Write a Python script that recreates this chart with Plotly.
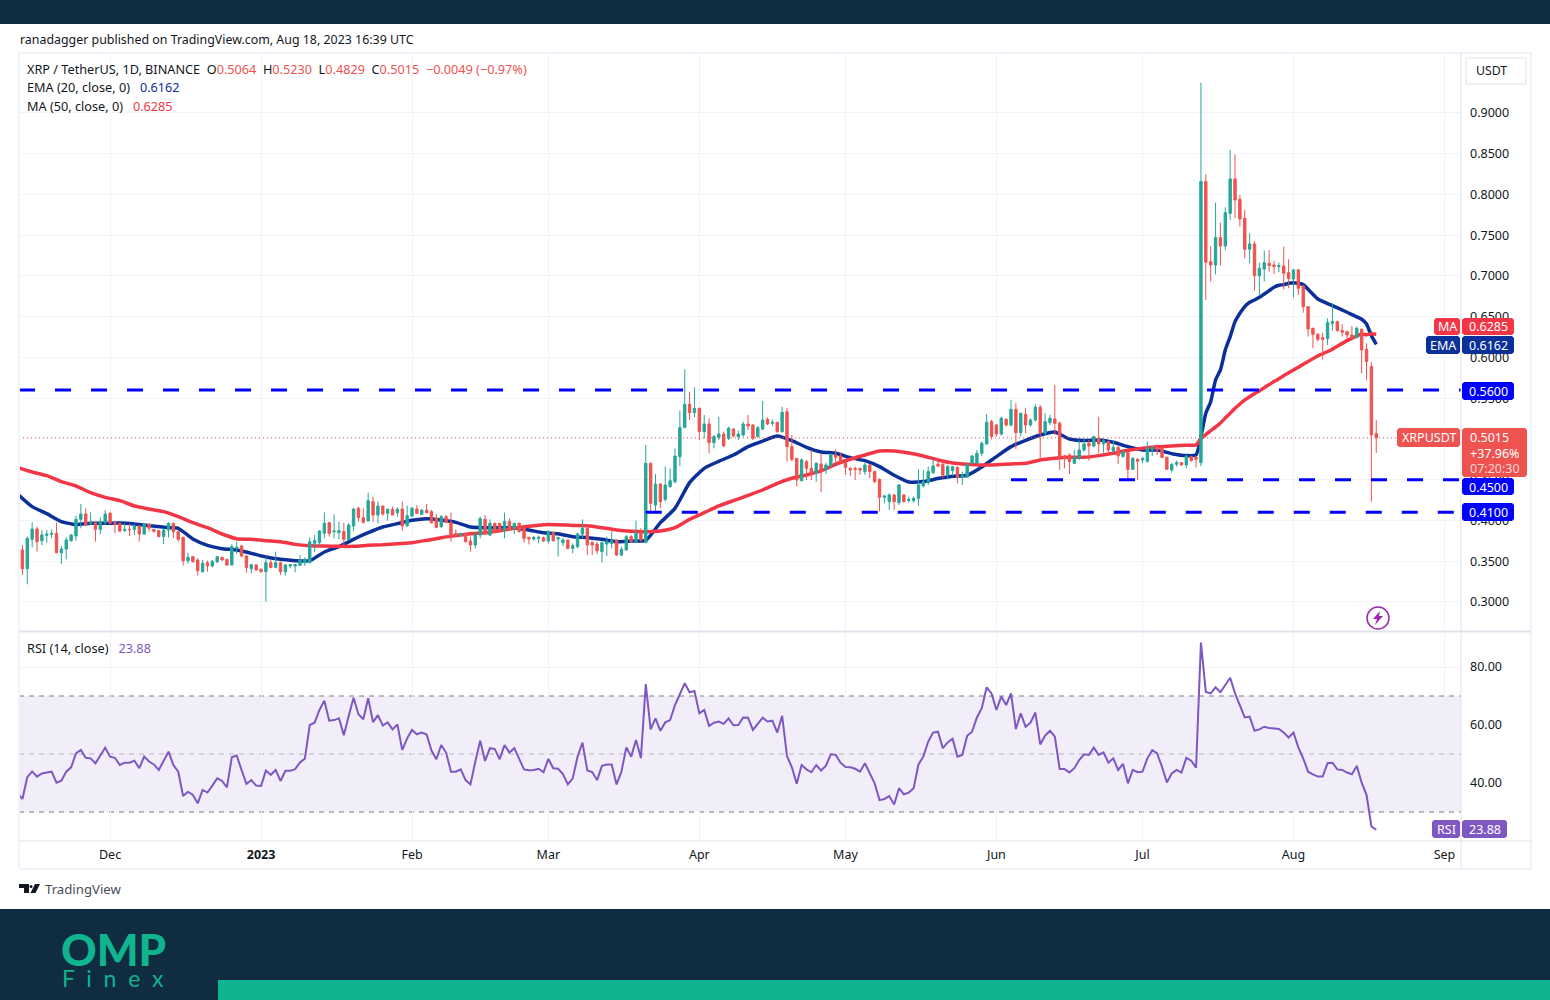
import pandas as pd
import plotly.graph_objects as go

# ---------- data ----------
candle_start = "2022-11-13"
open_vals = [
.3638,.3409,.3769,.3896,.3752,.3818,.3830,.3842,.3605,.3650,
.3752,.3810,.4014,.4080,.3957,.3973,.3891,.3973,.4088,.3973,
.3965,.3875,.3891,.3891,.3932,.3834,.3957,.3891,.3875,.3802,
.3883,.3965,.3863,.3793,.3507,.3556,.3515,.3372,.3482,.3442,
.3495,.3548,.3523,.3454,.3658,.3687,.3564,.3409,.3454,.3401,
.3372,.3482,.3425,.3482,.3372,.3442,.3442,.3450,.3482,.3482,
.3720,.3728,.3842,.3973,.3863,.3851,.3863,.3769,.3932,.4149,
.4035,.3994,.4231,.4067,.4178,.4088,.4137,.4096,
.4141,.3936,.4055,.4141,.4075,.4128,.4108,.4026,.3924,.4047,
.3977,.3842,.3818,.3842,.3748,.3699,.3822,.4014,.3822,.3965,
.3965,.3875,.3989,.3904,.3965,.3904,.3793,.3773,.3781,.3789,
.3748,.3850,.3773,.3728,.3760,.3658,.3679,.3834,.3904,.3728,
.3711,.3617,.3711,.3719,.3760,.3576,.3638,.3801,.3740,.3850,
.3728,.4701,.4190,.4448,.4259,.4415,.4476,.4783,.5143,.5425,
.5323,.5376,.5090,.5184,.4955,.5020,.5061,.5008,.5122,.5028,
.5049,.5184,.5171,.5028,.5122,.5241,.5192,.5204,.5090,.5335,
.4906,.4763,.4489,.4722,.4640,.4579,.4694,.4620,.4669,.4804,
.4792,.4710,.4640,.4640,.4636,.4600,.4681,.4600,.4505,.4285,
.4231,.4313,.4219,.4313,.4244,.4244,.4272,.4424,.4465,.4587,
.4690,.4690,.4559,.4612,.4653,.4538,.4530,.4702,.4702,.4825,
.4939,.5213,.5172,.5062,.5242,.5172,.5364,.5078,.5303,.5172,
.5233,.5389,.5070,.5201,.5246,.5193,.4792,.4804,.4702,.4763,
.4865,.4947,.4914,.5009,.4939,.4968,.4853,.4898,.4784,.4833,
.4628,.4751,.4743,.4726,.4865,.4898,.4886,.4775,.4620,.4690,
.4710,.4681,.4784,.4775,.4710,
.8158,.7176,.7135,.7471,.7368,.7769,.8191,.7941,.7708,.7328,
.7393,.7004,.7086,.7156,.7135,.7115,.7123,.7041,.6964,.7074,
.6878,.6624,.6358,.6285,.6244,.6231,.6420,.6440,.6330,.6317,
.6276,.6244,.6346,.6101,.5888,.5064]
close_vals = [
.3409,.3781,.3896,.3740,.3822,.3834,.3842,.3605,.3650,.3761,
.3822,.4014,.4080,.3945,.3973,.3891,.3986,.4080,.3965,.3957,
.3871,.3891,.3887,.3932,.3834,.3957,.3904,.3867,.3802,.3883,
.3965,.3863,.3769,.3507,.3548,.3495,.3384,.3474,.3442,.3499,
.3556,.3515,.3454,.3679,.3671,.3564,.3421,.3458,.3393,.3372,
.3482,.3425,.3482,.3372,.3454,.3458,.3458,.3515,.3523,.3740,
.3752,.3871,.3965,.3842,.3871,.3875,.3769,.3945,.4141,.4035,
.3977,.4243,.4067,.4178,.4080,.4137,.4067,.4137,
.3932,.4059,.4149,.4088,.4128,.4096,.3973,.3916,.4047,.3977,
.3809,.3822,.3842,.3740,.3699,.3822,.4022,.3834,.3965,.3863,
.3875,.3989,.3883,.3965,.3863,.3781,.3773,.3793,.3793,.3748,
.3863,.3752,.3789,.3760,.3658,.3691,.3834,.3904,.3699,.3699,
.3629,.3728,.3740,.3752,.3576,.3646,.3801,.3740,.3842,.3760,
.4701,.4210,.4448,.4231,.4435,.4488,.4791,.5139,.5425,.5323,
.5376,.5090,.5184,.4955,.5028,.5061,.4914,.5131,.5036,.5061,
.5184,.5159,.5008,.5139,.5233,.5184,.5204,.5090,.5327,.4906,
.4751,.4497,.4743,.4640,.4579,.4702,.4600,.4681,.4804,.4775,
.4722,.4653,.4620,.4628,.4620,.4681,.4600,.4477,.4285,.4301,
.4313,.4231,.4436,.4231,.4260,.4272,.4436,.4477,.4600,.4669,
.4669,.4559,.4661,.4661,.4530,.4559,.4690,.4792,.4825,.4947,
.5205,.5029,.5062,.5254,.5172,.5364,.5078,.5315,.5172,.5233,
.5389,.5070,.5213,.5254,.5193,.4775,.4763,.4722,.4775,.4865,
.4939,.4914,.5029,.4939,.4980,.4865,.4898,.4792,.4845,.4628,
.4763,.4726,.4763,.4886,.4898,.4865,.4775,.4628,.4690,.4710,
.4681,.4792,.4735,.4751,.8158,
.7168,.7135,.7471,.7368,.7777,.8191,.7933,.7700,.7328,.7393,
.7004,.7094,.7164,.7127,.7115,.7127,.7033,.6968,.7074,.6849,
.6624,.6350,.6285,.6223,.6223,.6428,.6440,.6330,.6309,.6276,
.6244,.6358,.6093,.5950,.5050,.5015]
high_vals = [
.3699,.3802,.3977,.3924,.3883,.3883,.3891,.3977,.3687,.3793,
.3834,.4059,.4202,.4149,.4100,.3986,.4039,.4129,.4108,.3986,
.3973,.3965,.3965,.3957,.3945,.3965,.3965,.3891,.3883,.3904,
.3977,.3973,.3883,.3802,.3605,.3564,.3536,.3515,.3507,.3515,
.3564,.3548,.3523,.3712,.3740,.3699,.3577,.3466,.3466,.3413,
.3548,.3515,.3617,.3495,.3466,.3466,.3466,.3577,.3548,.3793,
.3822,.3883,.4100,.3986,.4076,.3986,.3973,.3965,.4149,.4170,
.4149,.4341,.4292,.4231,.4178,.4149,.4170,.4161,
.4231,.4182,.4169,.4190,.4137,.4202,.4128,.4079,.4067,.4067,
.4096,.3891,.3850,.3850,.3801,.3850,.4047,.4067,.4014,.3973,
.3973,.4096,.4026,.3973,.3973,.3916,.3801,.3809,.3814,.3801,
.3883,.3863,.3801,.3781,.3769,.3719,.3850,.4014,.3924,.3752,
.3740,.3740,.3801,.3867,.3769,.3679,.3822,.3822,.3998,.3904,
.4926,.4709,.4570,.4456,.4660,.4640,.4885,.5347,.5854,.5580,
.5634,.5384,.5294,.5253,.5049,.5274,.5090,.5151,.5131,.5102,
.5212,.5294,.5184,.5159,.5466,.5266,.5241,.5212,.5396,.5384,
.5049,.4763,.4763,.4743,.4865,.4710,.4825,.4710,.4825,.4874,
.4833,.4722,.4653,.4661,.4653,.4710,.4694,.4612,.4514,.4313,
.4334,.4326,.4448,.4321,.4293,.4293,.4628,.4620,.4661,.4751,
.4751,.4743,.4681,.4669,.4661,.4600,.4702,.4804,.4865,.4968,
.5307,.5233,.5184,.5274,.5254,.5479,.5438,.5323,.5377,.5254,
.5426,.5418,.5315,.5295,.5663,.5213,.4804,.4825,.4865,.4988,
.5009,.4988,.5037,.5274,.5009,.4980,.4980,.4914,.4853,.4845,
.4775,.4763,.4775,.4968,.4914,.4935,.4898,.4784,.4702,.4735,
.4710,.4804,.4792,.4792,.9373,
.8248,.7368,.7900,.7655,.7843,.8546,.8493,.7994,.7810,.7524,
.7430,.7164,.7311,.7319,.7188,.7164,.7360,.7205,.7086,.7086,
.6890,.6632,.6366,.6297,.6305,.6481,.6665,.6452,.6411,.6326,
.6387,.6379,.6358,.6174,.5941,.5230]
low_vals = [
.3331,.3217,.3671,.3617,.3699,.3728,.3781,.3597,.3466,.3523,
.3740,.3752,.3904,.3932,.3945,.3740,.3830,.3945,.3957,.3842,
.3855,.3863,.3810,.3822,.3740,.3822,.3863,.3851,.3793,.3712,
.3793,.3781,.3740,.3446,.3474,.3482,.3323,.3360,.3372,.3425,
.3474,.3507,.3442,.3450,.3589,.3548,.3360,.3352,.3384,.3360,
.3004,.3413,.3413,.3331,.3323,.3413,.3364,.3442,.3442,.3474,
.3613,.3687,.3781,.3802,.3781,.3769,.3679,.3761,.3871,.3986,
.3965,.3994,.3986,.3965,.4059,.3998,.4067,.4047,
.3875,.3924,.4039,.4079,.4067,.4088,.3965,.3904,.3912,.3969,
.3740,.3809,.3814,.3728,.3617,.3658,.3781,.3822,.3809,.3850,
.3863,.3781,.3875,.3834,.3850,.3728,.3707,.3752,.3719,.3740,
.3719,.3740,.3556,.3687,.3646,.3597,.3658,.3781,.3576,.3576,
.3589,.3486,.3564,.3658,.3564,.3564,.3629,.3728,.3728,.3740,
.3728,.4088,.4088,.4149,.4231,.4407,.4456,.4668,.5131,.5233,
.5266,.4987,.5008,.4824,.4885,.4987,.4906,.4987,.5020,.4987,
.5028,.5110,.4987,.5020,.5110,.5171,.5159,.5077,.5077,.4722,
.4722,.4416,.4477,.4497,.4497,.4477,.4346,.4571,.4661,.4710,
.4702,.4559,.4547,.4497,.4559,.4559,.4518,.4456,.4109,.4211,
.4129,.4129,.4191,.4223,.4219,.4219,.4178,.4407,.4436,.4571,
.4653,.4518,.4505,.4547,.4456,.4436,.4530,.4694,.4690,.4792,
.4927,.4996,.5029,.5041,.5152,.5152,.4878,.5029,.5070,.5152,
.5213,.4743,.5049,.5172,.5049,.4620,.4640,.4571,.4694,.4743,
.4845,.4735,.4898,.4825,.4833,.4816,.4833,.4694,.4775,.4505,
.4620,.4497,.4702,.4710,.4792,.4804,.4763,.4620,.4587,.4661,
.4673,.4640,.4722,.4653,.4665,
.6706,.6931,.7021,.7127,.7319,.7687,.7708,.7606,.7217,.7156,
.6820,.6755,.6931,.7054,.7025,.7045,.6837,.6849,.6739,.6767,
.6550,.6256,.6113,.6195,.5978,.6154,.6326,.6317,.6256,.6236,
.6236,.6236,.5806,.5724,.4232,.4829]

# days after candle_start at which the two averages were read
avg_days = list(range(-1, 240, 3)) + [241] + list(range(242, 264)) + [266, 269, 272, 275, 276, 277, 278]
ema_vals = [
.4325,.4170,.4084,.3986,.3949,.3965,.3965,.3969,.3957,.3937,
.3916,.3904,.3773,.3695,.3654,.3638,.3597,.3552,.3523,.3507,
.3507,.3613,.3679,.3769,.3851,.3920,.3961,
.4002,.4022,.4006,.3977,.3920,.3912,.3912,.3908,.3883,.3850,
.3838,.3801,.3789,.3769,.3740,.3748,.3756,.3973,.4149,.4464,
.4640,.4726,.4803,.4906,.4975,.5036,
.4980,.4898,.4841,.4825,.4771,.4734,.4661,.4555,.4473,.4477,
.4514,.4542,.4555,.4657,.4784,.4906,.4984,.5049,.5086,.5000,
.4980,.4988,.4959,.4906,.4865,.4865,.4820,.4796,
.4804,
.5029,.5315,.5458,.5724,.5847,.6092,.6256,.6440,.6542,.6624,.6677,
.6706,.6738,.6779,.6820,.6861,.6886,.6894,.6910,.6918,.6910,.6894,
.6718,.6636,.6555,.6469,.6411,.6268,.6162]
ma_vals = [
.4652,.4595,.4550,.4476,.4423,.4341,.4284,.4243,.4178,.4141,
.4108,.4047,.3973,.3912,.3834,.3777,.3769,.3752,.3740,.3707,
.3691,.3687,.3683,.3683,.3695,.3703,.3716,
.3728,.3756,.3789,.3814,.3838,.3850,.3875,.3904,.3928,.3948,
.3948,.3940,.3936,.3912,.3883,.3867,.3863,.3871,.3912,.4014,
.4096,.4178,.4243,.4308,.4374,.4456,
.4518,.4559,.4608,.4690,.4751,.4804,.4853,.4853,.4829,.4792,
.4743,.4706,.4690,.4681,.4685,.4694,.4702,.4743,.4763,.4775,
.4775,.4796,.4825,.4861,.4886,.4906,.4914,.4923,
.4927,
.5005,.5053,.5102,.5147,.5196,.5258,.5315,.5376,.5429,.5479,.5519,
.5556,.5589,.5630,.5667,.5704,.5740,.5777,.5814,.5847,.5879,.5916,
.6019,.6101,.6207,.6285,.6280,.6290,.6285]

rsi_start = "2022-11-12"
rsi_vals = [
36.4,34.5,42.0,44.0,42.2,43.3,43.6,43.9,40.1,40.8,43.9,45.4,50.2,51.4,48.7,48.5,46.8,49.7,52.2,49.1,
48.7,46.2,47.0,47.0,47.7,45.1,49.1,47.4,46.4,44.5,47.6,50.8,46.2,43.9,35.5,37.0,35.9,33.0,37.6,36.7,
39.1,41.6,40.7,38.5,48.9,49.5,44.5,39.7,41.0,39.1,39.0,44.3,42.8,44.5,40.7,44.2,44.2,44.8,47.1,48.4,
60.0,60.8,65.2,68.4,61.5,61.7,62.3,56.5,63.1,69.4,63.7,62.0,69.2,61.0,63.4,59.8,60.9,58.5,60.2,51.4,
55.4,58.3,56.8,57.4,56.7,51.2,48.2,53.1,50.5,43.9,43.9,44.7,41.0,39.5,47.4,54.6,47.6,52.0,51.7,48.2,
53.1,50.5,52.0,48.5,44.7,44.4,44.5,44.9,43.7,48.3,45.1,44.9,43.1,39.5,41.6,49.1,53.9,44.3,43.8,41.0,
45.9,46.4,46.4,39.5,43.9,52.3,49.1,54.8,48.6,74.1,58.5,62.3,58.0,60.9,61.7,66.9,70.9,74.4,71.3,71.7,
64.0,65.2,59.7,60.8,61.2,60.4,62.3,59.9,60.0,62.6,62.5,58.3,60.4,62.5,61.2,61.5,57.4,63.2,49.3,45.4,
39.7,46.2,44.7,43.7,46.2,44.3,46.0,49.9,49.7,47.0,45.5,45.4,44.9,43.9,46.8,43.3,39.9,34.1,34.5,35.5,
32.6,38.2,36.1,36.7,38.2,46.4,49.1,54.3,57.4,57.7,52.0,54.0,55.3,49.1,49.7,56.3,57.7,62.6,65.8,73.0,
70.9,65.2,69.8,66.9,70.9,58.6,64.0,59.4,60.8,64.3,53.3,56.3,58.0,56.0,44.8,44.8,43.6,45.1,47.9,49.9,
49.7,52.2,49.7,50.6,47.0,48.5,44.5,46.6,39.9,44.5,43.7,43.9,48.5,51.3,50.2,45.6,40.2,43.3,44.5,43.6,
48.7,47.7,45.3,88.4,71.4,70.9,73.0,71.3,74.0,76.3,70.9,66.9,62.6,62.9,58.0,58.5,59.4,59.0,58.7,58.6,
57.4,55.7,57.4,52.3,48.5,43.9,43.0,42.2,42.2,46.8,47.0,44.7,44.5,43.6,43.0,45.9,40.1,35.9,25.0,23.88]

level_vals = [0.56, 0.45, 0.41]
level_starts = ["2022-11-12 07:12", "2023-06-04", "2023-03-21"]
last_price = 0.5015

price_ticks = [0.30, 0.35, 0.40, 0.45, 0.50, 0.55, 0.60, 0.65, 0.70, 0.75, 0.80, 0.85, 0.90]
rsi_ticks = [40, 60, 80]
month_ticks = ["2022-12-01", "2023-01-01", "2023-02-01", "2023-03-01", "2023-04-01",
               "2023-05-01", "2023-06-01", "2023-07-01", "2023-08-01", "2023-09-01"]
month_labels = ["Dec", "<b>2023</b>", "Feb", "Mar", "Apr", "May", "Jun", "Jul", "Aug", "Sep"]

assert len(open_vals) == len(close_vals) == len(high_vals) == len(low_vals) == 279, (len(open_vals), len(close_vals), len(high_vals), len(low_vals))
assert len(avg_days) == len(ema_vals) == len(ma_vals), (len(avg_days), len(ema_vals), len(ma_vals))
assert len(rsi_vals) == 280, len(rsi_vals)

dates = pd.date_range(candle_start, periods=279, freq="D")
avg_dates = [pd.Timestamp(candle_start) + pd.Timedelta(days=d) for d in avg_days]
rsi_dates = pd.date_range(rsi_start, periods=280, freq="D")

# ---------- styling ----------
W, H = 1550, 1000
FONT = "Noto Sans"
INK = "#131722"
GRID = "#f0f3fa"
EDGE = "#e0e3eb"
UP = "#26a69a"
DOWN = "#ef5350"
EMA_C = "#0c3099"
MA_C = "#f23645"
LEVEL_C = "#0000ff"
RSI_C = "#7e57c2"
NAVY = "#0f2c40"
TEAL = "#10b48f"
X_RANGE = ["2022-11-12 07:12", "2023-09-04 09:36"]
Y_RANGE = [0.2644, 0.9736]
R_RANGE = [20.0, 92.07]
GAP = "\u00a0\u00a0\u00a0"

def X(px): return px / W
def Y(py): return 1 - py / H

shapes, notes = [], []

def rect(x0, y0, x1, y1, fill=None, line=None, lw=1, layer="above"):
    shapes.append(dict(type="rect", xref="paper", yref="paper", x0=X(x0), x1=X(x1), y0=Y(y1), y1=Y(y0),
                       fillcolor=fill, line=dict(color=line, width=lw if line else 0), layer=layer))

def poly(points, fill):
    d = "M" + "L".join(f"{X(a):.5f},{Y(b):.5f}" for a, b in points) + "Z"
    shapes.append(dict(type="path", xref="paper", yref="paper", path=d, fillcolor=fill, line=dict(width=0), layer="above"))

def rbox(x0, y0, x1, y1, fill, r=2):
    pts = [(x0 + r, y0), (x1 - r, y0), (x1, y0 + r), (x1, y1 - r), (x1 - r, y1), (x0 + r, y1), (x0, y1 - r), (x0, y0 + r)]
    poly(pts, fill)

def text(x, y, s, size=12.5, color=INK, anchor="left", family=FONT, weight=None):
    f = dict(family=family, size=size, color=color)
    if weight:
        f["weight"] = weight
    notes.append(dict(x=X(x), y=Y(y), xref="paper", yref="paper", text=s, showarrow=False,
                      xanchor=anchor, yanchor="middle", align="left", borderpad=0, font=f))

fig = go.Figure()

# averages sit under the candles, on the base axes
fig.add_trace(go.Scatter(x=avg_dates, y=ema_vals, mode="lines", line=dict(color=EMA_C, width=3.5, shape="spline", smoothing=0.5), xaxis="x", yaxis="y", hoverinfo="skip"))
fig.add_trace(go.Scatter(x=avg_dates, y=ma_vals, mode="lines", line=dict(color=MA_C, width=3.5, shape="spline", smoothing=0.5), xaxis="x", yaxis="y", hoverinfo="skip"))

# candles and drawn levels on an overlay pair
fig.add_trace(go.Scatter(x=X_RANGE, y=[last_price, last_price], mode="lines",
                         line=dict(color=DOWN, width=1, dash="1px,3px"), xaxis="x3", yaxis="y3", hoverinfo="skip"))
fig.add_trace(go.Candlestick(x=dates, open=open_vals, high=high_vals, low=low_vals, close=close_vals,
                             increasing=dict(line=dict(color=UP, width=1), fillcolor=UP),
                             decreasing=dict(line=dict(color=DOWN, width=1), fillcolor=DOWN),
                             whiskerwidth=0, xaxis="x3", yaxis="y3", hoverinfo="skip"))
for lv, st in zip(level_vals, level_starts):
    fig.add_trace(go.Scatter(x=[st, X_RANGE[1]], y=[lv, lv], mode="lines",
                             line=dict(color=LEVEL_C, width=3, dash="16px,20px"), xaxis="x3", yaxis="y3", hoverinfo="skip"))

# RSI pane
shapes.append(dict(type="rect", xref="x2 domain", yref="y2", x0=0, x1=1, y0=30, y1=70,
                   fillcolor="rgba(126,87,194,0.1)", line=dict(width=0), layer="below"))
for lv, c in [(70, "#787b86"), (50, "#b2b5be"), (30, "#787b86")]:
    shapes.append(dict(type="line", xref="x2 domain", yref="y2", x0=0, x1=1, y0=lv, y1=lv,
                       line=dict(color=c, width=1, dash="5px,5px"), layer="below"))
fig.add_trace(go.Scatter(x=rsi_dates, y=rsi_vals, mode="lines", line=dict(color=RSI_C, width=2), xaxis="x2", yaxis="y2", hoverinfo="skip"))

# frame
rect(0, 0, W, 24, NAVY)
rect(0, 909, W, H, NAVY)
rect(218, 980, W, H, TEAL)
rect(19, 53, 1531, 869, None, GRID, 2)
shapes.append(dict(type="line", xref="paper", yref="paper", x0=X(1461), x1=X(1461), y0=Y(869), y1=Y(53), line=dict(color=EDGE, width=1), layer="above"))
shapes.append(dict(type="line", xref="paper", yref="paper", x0=X(19), x1=X(1531), y0=Y(631.5), y1=Y(631.5), line=dict(color=EDGE, width=2), layer="above"))
shapes.append(dict(type="line", xref="paper", yref="paper", x0=X(19), x1=X(1531), y0=Y(841), y1=Y(841), line=dict(color=EDGE, width=1), layer="above"))

# header texts
text(18.5, 39.5, "ranadagger published on TradingView.com, Aug 18, 2023 16:39 UTC", 12.4)
R = lambda s: f'<span style="color:{DOWN}">{s}</span>'
text(26, 68.5, "XRP / TetherUS, 1D, BINANCE  O" + R("0.5064") + "  H" + R("0.5230") + "  L" + R("0.4829") + "  C" + R("0.5015") + "  " + R("−0.0049 (−0.97%)"), 12.7)
text(26, 87, f'EMA (20, close, 0){GAP}<span style="color:{EMA_C}">0.6162</span>', 12.7)
text(26, 105.5, f'MA (50, close, 0){GAP}<span style="color:{MA_C}">0.6285</span>', 12.7)
text(26, 647.5, f'RSI (14, close){GAP}<span style="color:{RSI_C}">23.88</span>', 12.7)

# currency button
shapes.append(dict(type="rect", xref="paper", yref="paper", x0=X(1466), x1=X(1526), y0=Y(84), y1=Y(58),
                   fillcolor="white", line=dict(color=EDGE, width=1), layer="above"))
text(1475, 70.5, "USDT", 12.3)

# price tags
def tag(x0, x1, y0, y1, label, fill):
    rbox(x0, y0, x1, y1, fill)
    text((x0 + x1) / 2, (y0 + y1) / 2 + 0.5, label, 12.5, "white", "center")

tag(1434, 1460, 318, 335, "MA", MA_C)
tag(1462, 1514, 318, 335, "0.6285", MA_C)
tag(1426, 1460, 336, 354, "EMA", EMA_C)
tag(1462, 1514, 336, 354, "0.6162", EMA_C)
tag(1462, 1514, 382, 400, "0.5600", LEVEL_C)
tag(1397, 1460, 428, 447, "XRPUSDT", DOWN)
rbox(1462, 428, 1527, 477, DOWN)
text(1469, 438, "0.5015", 12.5, "white")
text(1469, 453, "+37.96%", 12.5, "white")
text(1469, 468, "07:20:30", 12.5, "rgba(255,255,255,0.75)")
tag(1462, 1514, 478, 495, "0.4500", LEVEL_C)
tag(1462, 1514, 503, 521, "0.4100", LEVEL_C)
tag(1432, 1460, 820, 838, "RSI", RSI_C)
tag(1462, 1507, 820, 838, "23.88", RSI_C)

# replay badge
shapes.append(dict(type="circle", xref="paper", yref="paper", x0=X(1367), x1=X(1389), y0=Y(629), y1=Y(607),
                   fillcolor="white", line=dict(color="#9c27b0", width=1.5), layer="above"))
poly([(1380, 611), (1373, 619), (1377, 619), (1375, 625), (1383, 616), (1379, 616)], "#9c27b0")

# TradingView mark
poly([(19, 884), (29, 884), (29, 893), (24, 893), (24, 888), (19, 888)], "#131722")
poly([(35, 884), (40, 884), (35.5, 893), (30.5, 893)], "#131722")
shapes.append(dict(type="circle", xref="paper", yref="paper", x0=X(29.5), x1=X(32.5), y0=Y(888), y1=Y(885),
                   fillcolor="#131722", line=dict(width=0), layer="above"))
text(44, 889, "TradingView", 13.2, "#4a4d57")

# brand block
text(113, 949, "OMP", 44, TEAL, "center", "Lato", 900)
text(113, 978, "F  i  n  e  x", 23, TEAL, "center", "Lato")

axis_font = dict(family=FONT, size=12.5, color=INK)
fig.update_layout(
    width=W, height=H, margin=dict(l=0, r=0, t=0, b=0), autosize=False,
    paper_bgcolor="white", plot_bgcolor="white", showlegend=False,
    shapes=shapes, annotations=notes, hovermode=False,
    xaxis=dict(domain=[X(19), X(1461)], range=X_RANGE, type="date", anchor="y", showticklabels=False,
               tickvals=month_ticks, showgrid=True, gridcolor=GRID, gridwidth=1, zeroline=False, rangeslider=dict(visible=False)),
    yaxis=dict(domain=[Y(631), Y(53)], range=Y_RANGE, anchor="x", side="right", tickvals=price_ticks, tickformat=".4f",
               tickfont=axis_font, ticks="", ticklabelstandoff=8, showgrid=True, gridcolor=GRID, gridwidth=1, zeroline=False),
    xaxis2=dict(domain=[X(19), X(1461)], range=X_RANGE, type="date", anchor="y2", tickvals=month_ticks, ticktext=month_labels,
                tickfont=axis_font, ticks="", ticklabelstandoff=4, showgrid=True, gridcolor=GRID, gridwidth=1, zeroline=False),
    yaxis2=dict(domain=[Y(841), Y(632)], range=R_RANGE, anchor="x2", side="right", tickvals=rsi_ticks, tickformat=".2f",
                tickfont=axis_font, ticks="", ticklabelstandoff=8, showgrid=True, gridcolor=GRID, gridwidth=1, zeroline=False),
    xaxis3=dict(overlaying="x", range=X_RANGE, type="date", anchor="y3", visible=False, rangeslider=dict(visible=False)),
    yaxis3=dict(overlaying="y", range=Y_RANGE, anchor="x3", side="right", visible=False),
)

fig.write_html("out.html", config=dict(displayModeBar=False),
               post_script="document.body.style.margin='0';document.body.style.overflow='hidden';")
